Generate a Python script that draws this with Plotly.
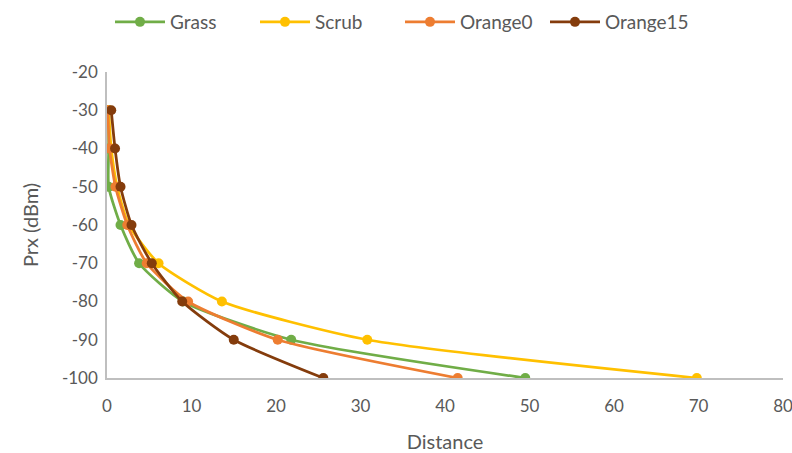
import plotly.graph_objects as go

prx = [-30, -40, -50, -60, -70, -80, -90, -100]
grass = [0.2, 0.2, 0.2, 1.6, 3.8, 9.0, 21.8, 49.5]
scrub = [0.2, 0.5, 1.2, 2.6, 6.1, 13.6, 30.8, 69.8]
orange0 = [0.1, 0.3, 1.0, 2.4, 4.7, 9.6, 20.2, 41.5]
orange15 = [0.5, 0.95, 1.6, 2.9, 5.3, 8.9, 15.0, 25.6]

y_ticks = [-20, -30, -40, -50, -60, -70, -80, -90, -100]
y_tick_text = ["-20", "-30", "-40", "-50", "-60", "-70", "-80", "-90", "-100"]

series = [
    ("Grass", grass, "#70AD47"),
    ("Scrub", scrub, "#FFC000"),
    ("Orange0", orange0, "#ED7D31"),
    ("Orange15", orange15, "#843C0C"),
]

fig = go.Figure()
for name, xs, col in series:
    fig.add_trace(go.Scatter(
        x=xs, y=prx, name=name, mode="lines+markers",
        line=dict(color=col, width=2.75, shape="spline", smoothing=0.6),
        marker=dict(color=col, size=10, symbol="circle"),
    ))

fam = "Lato, Carlito, Liberation Sans, sans-serif"
W, H = 792, 453
fig.update_layout(
    width=W, height=H,
    paper_bgcolor="white", plot_bgcolor="white",
    margin=dict(l=107, r=9, t=72, b=75, autoexpand=False),
    font=dict(family=fam, size=17, color="#595959"),
    showlegend=True,
    legend=dict(orientation="h", x=400 / W, xref="container", xanchor="center",
                y=1 - 22 / H, yref="container", yanchor="middle",
                itemwidth=50, entrywidth=80, font=dict(size=19, color="#595959"),
                traceorder="normal"),
    xaxis=dict(range=[0, 80], dtick=10, showgrid=False, zeroline=False, automargin=False,
               showline=True, linecolor="#BFBFBF", linewidth=1.5, ticks="",
               ticklabelstandoff=12, ticklabeloverflow="allow",
               title=dict(text="Distance", font=dict(size=20, color="#595959"), standoff=22)),
    yaxis=dict(range=[-100, -20], tickvals=y_ticks, ticktext=y_tick_text,
               showgrid=False, zeroline=False, automargin=False,
               showline=True, linecolor="#BFBFBF", linewidth=1.5, ticks="",
               ticklabelstandoff=4, ticklabeloverflow="allow",
               title=dict(text="Prx (dBm)", font=dict(size=20, color="#595959"), standoff=18)),
)
fig.write_html(
    "out.html",
    config={"displayModeBar": False},
    post_script="document.body.style.margin='0';document.body.style.overflow='hidden';",
)
